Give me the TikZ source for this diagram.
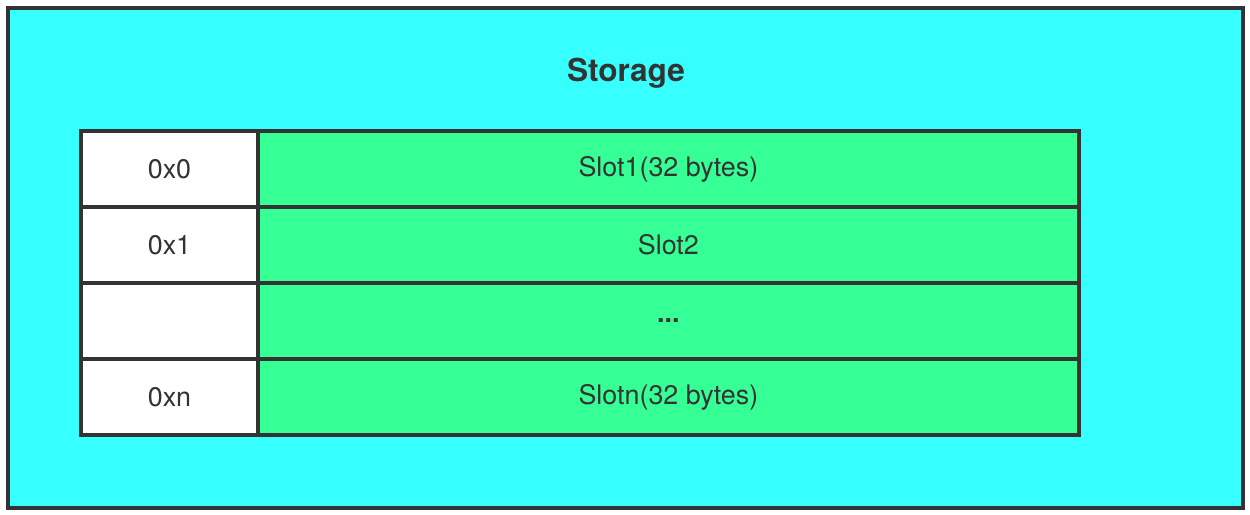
\documentclass[tikz,border=0pt]{standalone}
\usepackage{fontspec}
\setmainfont{TeX Gyre Heros}
\usepackage{tikz}
\usetikzlibrary{positioning}

\definecolor{storecyan}{RGB}{56,255,255}
\definecolor{slotgreen}{RGB}{54,255,150}
\definecolor{edgegray}{RGB}{51,51,51}

\tikzset{
  cell/.style={draw=edgegray, line width=2pt, inner sep=0pt, outer sep=0pt,
    minimum height=1.52cm, text=edgegray, font=\fontsize{15.3}{17}\selectfont},
  addr/.style={cell, fill=white, minimum width=3.54cm},
  slot/.style={cell, fill=slotgreen, minimum width=16.42cm}
}

\begin{document}
\begin{tikzpicture}[x=0.02cm,y=-0.02cm]
        \useasboundingbox (0,0) rectangle (1250,514);
        \draw[draw=edgegray, fill=storecyan, line width=2pt] (8,8) rectangle (1243,508);
        \node[text=edgegray, font=\bfseries\fontsize{18}{20}\selectfont] (title) at (626,73) {Storage};
        \node[addr, anchor=north west] (a0) at (81,131) {0x0};
        \node[addr, below=0pt of a0] (a1) {0x1};
        \node[addr, below=0pt of a1] (a2) {};
        \node[addr, below=0pt of a2] (an) {0xn};
        \node[slot, right=0pt of a0] (s0) {Slot1(32 bytes)};
        \node[slot, right=0pt of a1] (s1) {Slot2};
        \node[slot, right=0pt of a2] (s2) {\textbf{...}};
        \node[slot, right=0pt of an] (sn) {Slotn(32 bytes)};
    \end{tikzpicture}
\end{document}
